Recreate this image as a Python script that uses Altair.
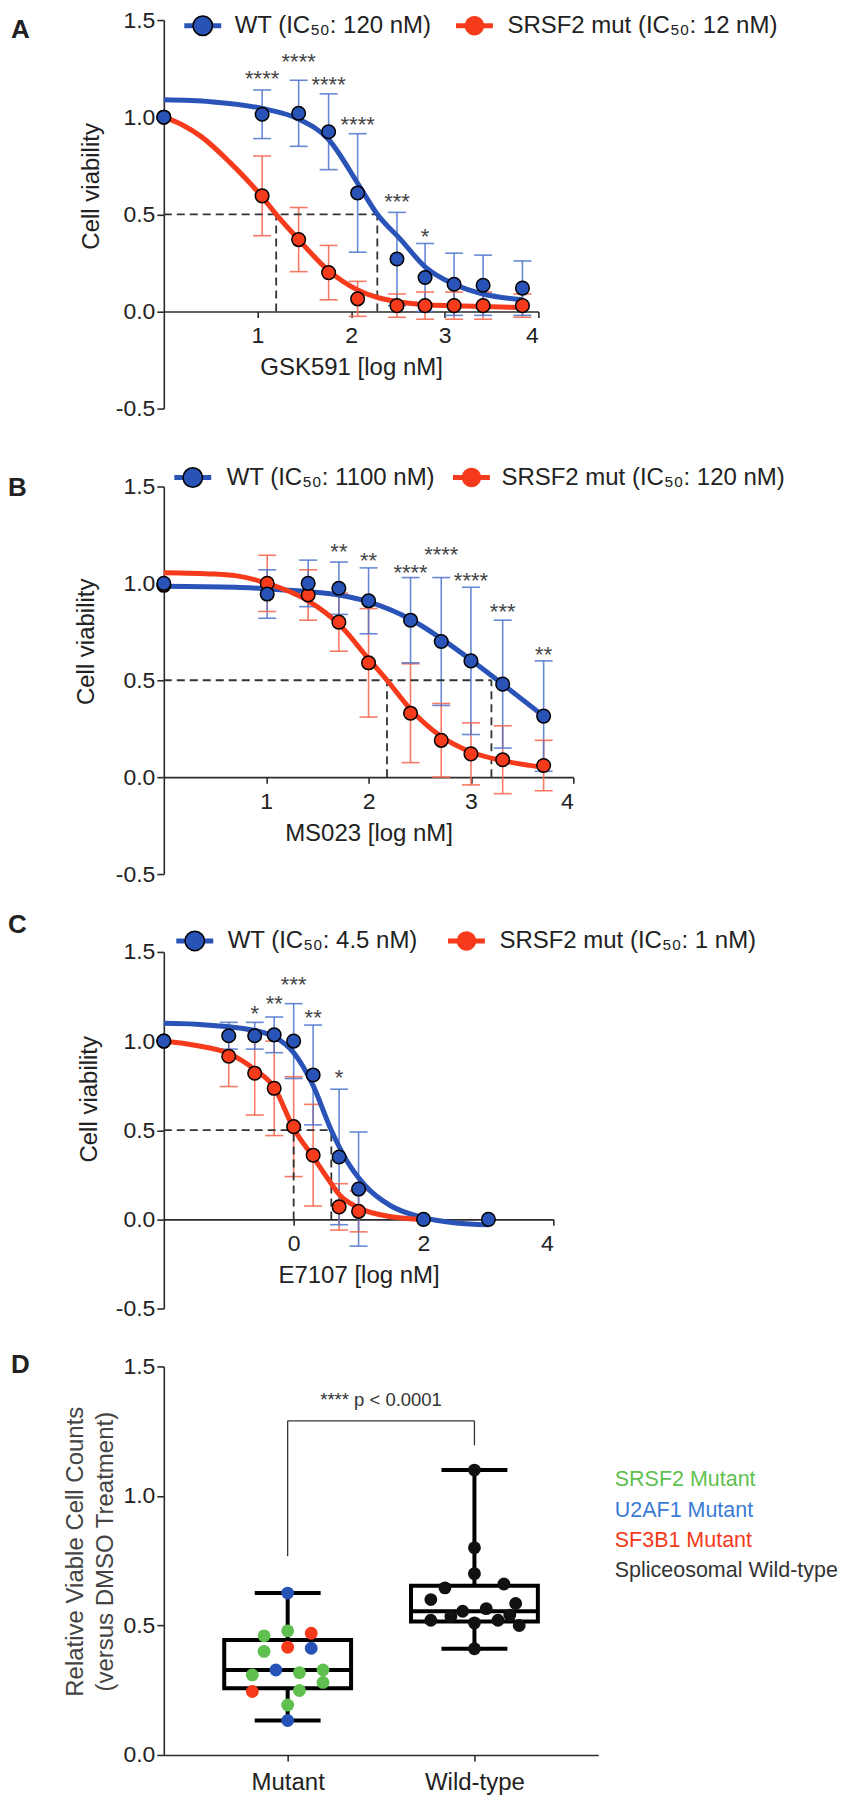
import altair as alt
import pandas as pd

FONT = "Liberation Sans"
TXT = "#222222"
AXC = "#2b2b2b"
BLUE = "#2a53b7"
RED = "#f53b1b"
BLUE_ERR = "#4d74cc"
RED_ERR = "#f6634b"
DASH = "#333333"
STAR = "#444444"

CIRCLE_PATH = "M-1.05,0A1.05,1.05,0,1,1,1.05,0A1.05,1.05,0,1,1,-1.05,0Z"
LINE_PATH = "M-2,-0.27H2V0.27H-2Z"
LEG_SIZE = 342
NEG_EXPR = "datum.value < 0 ? '-' + format(-datum.value, '.1f') : format(datum.value, '.1f')"

# ---------------- Panel A : GSK591 ----------------
A_WT = "WT (IC₅₀: 120 nM)"
A_MUT = "SRSF2 mut (IC₅₀: 12 nM)"
A_X = [0.0, 1.05, 1.44, 1.76, 2.07, 2.49, 2.79, 3.10, 3.41, 3.83]
A_WT_Y = [1.0, 1.015, 1.02, 0.925, 0.61, 0.27, 0.175, 0.14, 0.135, 0.12]
A_WT_ERR = [0, 0.125, 0.17, 0.195, 0.305, 0.24, 0.175, 0.16, 0.155, 0.14]
A_MUT_Y = [1.0, 0.595, 0.37, 0.20, 0.065, 0.03, 0.03, 0.03, 0.03, 0.03]
A_MUT_ERR = [0, 0.205, 0.165, 0.14, 0.09, 0.06, 0.07, 0.07, 0.07, 0.06]
A_WT_FIT_X = [0, 0.5, 1.05, 1.44, 1.76, 2.07, 2.28, 2.53, 2.79, 3.10, 3.41, 3.83]
A_WT_FIT_Y = [1.09, 1.08, 1.045, 0.99, 0.885, 0.66, 0.5, 0.37, 0.23, 0.14, 0.09, 0.06]
A_MUT_FIT_X = [0, 0.2, 0.4, 0.7, 1.05, 1.2, 1.44, 1.76, 2.07, 2.5, 2.79, 3.10, 3.83]
A_MUT_FIT_Y = [1.0, 0.96, 0.9, 0.77, 0.59, 0.5, 0.37, 0.21, 0.11, 0.05, 0.035, 0.03, 0.02]
A_IC50 = [2.28, 1.2]
A_STAR_X = [1.05, 1.44, 1.76, 2.07, 2.49, 2.79]
A_STAR_Y = [1.22, 1.31, 1.19, 0.985, 0.59, 0.41]
A_STARS = ["****", "****", "****", "****", "***", "*"]

# ---------------- Panel B : MS023 ----------------
B_WT = "WT (IC₅₀: 1100 nM)"
B_MUT = "SRSF2 mut (IC₅₀: 120 nM)"
B_X = [0.0, 1.01, 1.41, 1.71, 2.0, 2.41, 2.71, 3.0, 3.31, 3.71]
B_WT_Y = [1.0, 0.945, 1.0, 0.975, 0.91, 0.81, 0.70, 0.60, 0.48, 0.315]
B_WT_ERR = [0, 0.125, 0.12, 0.135, 0.17, 0.22, 0.33, 0.38, 0.33, 0.285]
B_MUT_Y = [0.99, 1.0, 0.94, 0.80, 0.59, 0.33, 0.19, 0.12, 0.09, 0.06]
B_MUT_ERR = [0, 0.145, 0.13, 0.15, 0.28, 0.255, 0.19, 0.16, 0.175, 0.13]
B_WT_FIT_X = [0, 0.7, 1.01, 1.41, 1.71, 2.0, 2.41, 2.71, 3.0, 3.31, 3.71]
B_WT_FIT_Y = [0.985, 0.98, 0.972, 0.958, 0.94, 0.905, 0.815, 0.715, 0.605, 0.48, 0.315]
B_MUT_FIT_X = [0, 0.5, 0.7, 1.01, 1.41, 1.71, 2.0, 2.18, 2.41, 2.71, 3.0, 3.31, 3.71]
B_MUT_FIT_Y = [1.055, 1.048, 1.04, 1.0, 0.91, 0.79, 0.61, 0.5, 0.35, 0.21, 0.13, 0.085, 0.05]
B_IC50 = [3.2, 2.18]
B_STAR_X = [1.71, 2.0, 2.41, 2.71, 3.0, 3.31, 3.71]
B_STAR_Y = [1.19, 1.14, 1.08, 1.17, 1.04, 0.88, 0.655]
B_STARS = ["**", "**", "****", "****", "****", "***", "**"]

# ---------------- Panel C : E7107 ----------------
C_WT = "WT (IC₅₀: 4.5 nM)"
C_MUT = "SRSF2 mut (IC₅₀: 1 nM)"
C_WT_X = [-2.0, -1.0, -0.6, -0.3, 0.0, 0.3, 0.7, 1.0, 2.0, 3.0]
C_WT_Y = [1.0, 1.03, 1.03, 1.035, 1.0, 0.81, 0.35, 0.17, 0.0, 0.0]
C_WT_ERR = [0, 0.075, 0.075, 0.10, 0.21, 0.28, 0.38, 0.32, 0, 0]
C_MUT_X = [-2.0, -1.0, -0.6, -0.3, 0.0, 0.3, 0.7, 1.0]
C_MUT_Y = [1.0, 0.915, 0.82, 0.735, 0.52, 0.36, 0.07, 0.045]
C_MUT_ERR = [0, 0.17, 0.235, 0.265, 0.28, 0.285, 0.13, 0.115]
C_WT_FIT_X = [-2, -1.5, -1.0, -0.6, -0.3, 0.0, 0.14, 0.3, 0.58, 0.8, 1.1, 1.5, 2.0, 2.5, 3.0]
C_WT_FIT_Y = [1.10, 1.095, 1.08, 1.06, 1.025, 0.935, 0.86, 0.75, 0.5, 0.34, 0.19, 0.075, 0.01, -0.02, -0.03]
C_MUT_FIT_X = [-2, -1.5, -1.0, -0.6, -0.3, 0.0, 0.3, 0.58, 0.7, 1.0, 1.5, 2.0]
C_MUT_FIT_Y = [1.0, 0.975, 0.93, 0.84, 0.74, 0.51, 0.35, 0.2, 0.14, 0.065, 0.015, 0.0]
C_IC50 = [0.58, 0.0]
C_STAR_X = [-0.6, -0.3, 0.0, 0.3, 0.7]
C_STAR_Y = [1.18, 1.235, 1.34, 1.16, 0.82]
C_STARS = ["*", "**", "***", "**", "*"]

# ---------------- Panel D : box plot ----------------
D_GROUPS = ["Mutant", "Wild-type"]
D_GENOTYPES = ["SRSF2 Mutant", "U2AF1 Mutant", "SF3B1 Mutant", "Spliceosomal Wild-type"]
D_GENO_COLORS = ["#5fc04f", "#2752b5", "#f43a1a", "#111111"]
D_LABEL_COLORS = ["#5fc04f", "#3a7bd5", "#f43a1a", "#333333"]
D_MUT_VAL = [0.625, 0.46, 0.479, 0.47, 0.40, 0.416, 0.412, 0.309, 0.328, 0.318, 0.328, 0.28, 0.245, 0.249, 0.193, 0.133]
D_MUT_SLOT = [0, -2, 0, 2, -2, 0, 2, -3, -1, 1, 3, 3, -3, 1, 0, 0]
D_MUT_GENO = ["U2AF1 Mutant", "SRSF2 Mutant", "SRSF2 Mutant", "SF3B1 Mutant", "SRSF2 Mutant", "SF3B1 Mutant",
              "U2AF1 Mutant", "SRSF2 Mutant", "U2AF1 Mutant", "SRSF2 Mutant", "SRSF2 Mutant", "SRSF2 Mutant",
              "SF3B1 Mutant", "SRSF2 Mutant", "SRSF2 Mutant", "U2AF1 Mutant"]
D_WT_VAL = [1.10, 0.80, 0.70, 0.66, 0.645, 0.60, 0.585, 0.565, 0.555, 0.54, 0.535, 0.52, 0.52, 0.51, 0.50, 0.41]
D_WT_SLOT = [0, 0, 0, 2.5, -2.5, -3.7, 3.5, 1, -1, 3, -2, -3.7, 2, 0, 3.8, 0]
D_MIN = [0.133, 0.41]
D_Q1 = [0.2575, 0.515]
D_MED = [0.328, 0.555]
D_Q3 = [0.444, 0.653]
D_MAX = [0.625, 1.10]
D_P_TEXT = "**** p < 0.0001"
D_BRACKET_TOP = 1.29
D_BRACKET_LEGS = [0.767, 1.195]
D_P_Y = 1.37


def dose_panel(letter, title_pos, wt, mut, xdom, width, height, xticks, xtitle, ytitle, ytpos,
               wt_x, wt_y, wt_err, mut_x, mut_y, mut_err, wt_fx, wt_fy, mut_fx, mut_fy,
               ic50, star_x, star_y, star_t, leg):
    pts = pd.DataFrame(
        [dict(x=a, y=b, lo=b - e, hi=b + e, err=e, grp="mut") for a, b, e in zip(mut_x, mut_y, mut_err)]
        + [dict(x=a, y=b, lo=b - e, hi=b + e, err=e, grp="wt") for a, b, e in zip(wt_x, wt_y, wt_err)])
    fit = pd.DataFrame(
        [dict(x=a, y=b, grp="wt") for a, b in zip(wt_fx, wt_fy)]
        + [dict(x=a, y=b, grp="mut") for a, b in zip(mut_fx, mut_fy)])
    dash = pd.DataFrame([
        dict(x=xdom[0], x2=ic50[0], y=0.5, y2=0.5),
        dict(x=ic50[0], x2=ic50[0], y=0.0, y2=0.5),
        dict(x=ic50[1], x2=ic50[1], y=0.0, y2=0.5)])
    stars = pd.DataFrame(dict(x=star_x, y=star_y, t=star_t))
    legdf = pd.DataFrame(dict(x=[xdom[0]], y=[0.0], k1=[wt], k2=["wt_dot"], k3=[mut], k4=["mut_dot"]))

    xs = alt.Scale(domain=xdom, nice=False, zero=False)
    ys = alt.Scale(domain=[-0.5, 1.5], nice=False, zero=False)
    xax = alt.Axis(values=xticks, format="d", title=xtitle, offset=-height * 0.25, tickSize=6,
                   labelPadding=7, titleY=56, titleBaseline="middle", labelFontSize=23, titleFontSize=24)
    yax = alt.Axis(values=[-0.5, 0.0, 0.5, 1.0, 1.5], labelExpr=NEG_EXPR, title=ytitle,
                   titleX=ytpos[0], titleY=ytpos[1], titleBaseline="middle")

    def X(f):
        return alt.X(f, type="quantitative", scale=xs, axis=xax)

    def Y(f):
        return alt.Y(f, type="quantitative", scale=ys, axis=yax)

    col = f"datum.grp == 'wt' ? '{BLUE}' : '{RED}'"
    ecol = f"datum.grp == 'wt' ? '{BLUE_ERR}' : '{RED_ERR}'"
    cap = 9.0 * (xdom[1] - xdom[0]) / width

    base_err = alt.Chart(pts).transform_filter("datum.err > 0").transform_calculate(ec=ecol)
    bars = base_err.mark_rule(strokeWidth=1.6, opacity=0.85).encode(
        x=X("x"), y=Y("lo"), y2="hi", stroke=alt.Stroke("ec:N", scale=None))
    caps = base_err.transform_fold(["lo", "hi"], as_=["k", "cy"]).transform_calculate(
        xl=f"datum.x - {cap}", xr=f"datum.x + {cap}").mark_rule(strokeWidth=1.6, opacity=0.85).encode(
        x=X("xl"), x2="xr", y=Y("cy"), stroke=alt.Stroke("ec:N", scale=None))
    dashes = alt.Chart(dash).mark_rule(strokeDash=[8, 5], strokeWidth=1.8, color=DASH).encode(
        x=X("x"), x2="x2", y=Y("y"), y2="y2")
    curves = alt.Chart(fit).transform_calculate(lc=col).mark_line(strokeWidth=5, interpolate="monotone").encode(
        x=X("x"), y=Y("y"), stroke=alt.Stroke("lc:N", scale=None), detail="grp:N")
    dots = alt.Chart(pts).transform_calculate(pc=col).mark_circle(
        size=185, opacity=1, stroke="black", strokeWidth=1.5).encode(
        x=X("x"), y=Y("y"), fill=alt.Fill("pc:N", scale=None))
    startxt = alt.Chart(stars).mark_text(fontSize=22, color=STAR, baseline="middle", dy=5, font=FONT).encode(
        x=X("x"), y=Y("y"), text="t:N")

    # legend: (wt_x, wt_labeloffset, mut_x, mut_labeloffset, y)
    lb = dict(orient="none", direction="horizontal", title=None, labelFont=FONT, labelFontSize=24,
              labelLimit=800, padding=0, symbolOpacity=1, symbolSize=LEG_SIZE, legendY=leg[4])

    def line_leg(lx, lo):
        return alt.Legend(legendX=lx, labelOffset=lo, symbolType=LINE_PATH, symbolStrokeColor="transparent",
                          symbolStrokeWidth=1.5, labelColor=TXT, zindex=1, **lb)

    def dot_leg(lx):
        return alt.Legend(legendX=lx, labelExpr="''", labelOffset=0, symbolType=CIRCLE_PATH,
                          symbolStrokeColor="black", symbolStrokeWidth=1.5, zindex=2, **lb)

    wt_leg = alt.Chart(legdf).transform_filter("false").mark_point(filled=True, color=BLUE).encode(
        x=X("x"), y=Y("y"),
        shape=alt.Shape("k1:N", scale=alt.Scale(domain=[wt], range=[LINE_PATH]), legend=line_leg(leg[0], leg[1])))
    wt_dot_leg = alt.Chart(legdf).transform_filter("false").mark_point(filled=True, opacity=1).encode(
        x=X("x"), y=Y("y"),
        color=alt.Color("k2:N", scale=alt.Scale(domain=["wt_dot"], range=[BLUE]), legend=dot_leg(leg[0])))
    mut_leg = alt.Chart(legdf).transform_filter("false").mark_point(filled=True, color=RED).encode(
        x=X("x"), y=Y("y"),
        strokeDash=alt.StrokeDash("k3:N", scale=alt.Scale(domain=[mut], range=[[1, 0]]),
                                  legend=line_leg(leg[2], leg[3])),
        opacity=alt.Opacity("k4:O", scale=alt.Scale(domain=["mut_dot"], range=[1]), legend=dot_leg(leg[2])))

    return alt.layer(bars, caps, dashes, curves, dots, startxt, wt_leg, wt_dot_leg, mut_leg).properties(
        width=width, height=height,
        title=alt.TitleParams(letter, anchor="start", orient="top", frame="group", offset=title_pos[1],
                              dx=title_pos[0], baseline="top", fontSize=26,
                              fontWeight="bold", font=FONT, color=TXT))


def box_panel(width=435, height=369, lift=20):
    step = 187.0
    pad = 124.0 / step
    box_half = 63.5 / step
    cap_half = 33.0 / step
    slot = 11.8 / step
    pos = [i + 1 for i in range(len(D_GROUPS))]
    stats = pd.DataFrame(dict(grp=D_GROUPS, pos=pos, mn=D_MIN, q1=D_Q1, med=D_MED, q3=D_Q3, mx=D_MAX))
    stats["xl"] = stats["pos"] - box_half
    stats["xr"] = stats["pos"] + box_half
    stats["cl"] = stats["pos"] - cap_half
    stats["cr"] = stats["pos"] + cap_half
    pts = pd.DataFrame(
        [dict(pos=pos[0], slot=s, val=v, geno=g) for v, s, g in zip(D_MUT_VAL, D_MUT_SLOT, D_MUT_GENO)]
        + [dict(pos=pos[1], slot=s, val=v, geno=D_GENOTYPES[3]) for v, s in zip(D_WT_VAL, D_WT_SLOT)])
    pts["xp"] = pts["pos"] + pts["slot"] * slot
    bracket = pd.DataFrame(dict(x=[pos[0], pos[0], pos[1]], x2=[pos[1], pos[0], pos[1]],
                                y=[D_BRACKET_TOP, D_BRACKET_LEGS[0], D_BRACKET_LEGS[1]],
                                y2=[D_BRACKET_TOP] * 3))
    ptxt = pd.DataFrame(dict(x=[(pos[0] + pos[1]) / 2], y=[D_P_Y], t=[D_P_TEXT]))

    lab_expr = " : ".join(f"datum.value == {p} ? '{g}'" for p, g in zip(pos[:-1], D_GROUPS[:-1])) + f" : '{D_GROUPS[-1]}'"
    xs = alt.Scale(domain=[pos[0] - pad, pos[-1] + pad], nice=False, zero=False)
    ys = alt.Scale(domain=[0, 1.5], nice=False, zero=False, range=[height, -lift])
    xax = alt.Axis(values=pos, labelExpr=lab_expr, title=None, tickSize=6, labelPadding=10, labelFontSize=24)
    yax = alt.Axis(values=[0, 0.5, 1.0, 1.5], format=".1f",
                   title=["Relative Viable Cell Counts", "(versus DMSO Treatment)"],
                   titleX=-88, titleY=165, titleBaseline="middle", titleFontSize=24,
                   titleColor="#444444", titleLineHeight=30)

    def X(f):
        return alt.X(f, type="quantitative", scale=xs, axis=xax)

    def Y(f):
        return alt.Y(f, type="quantitative", scale=ys, axis=yax)

    sb = alt.Chart(stats)
    box = sb.mark_rect(fill="transparent", stroke="black", strokeWidth=4).encode(x=X("xl"), x2="xr", y=Y("q1"), y2="q3")
    med = sb.mark_rule(color="black", strokeWidth=4).encode(x=X("xl"), x2="xr", y=Y("med"))
    wh_hi = sb.mark_rule(color="black", strokeWidth=4).encode(x=X("pos"), y=Y("q3"), y2="mx")
    wh_lo = sb.mark_rule(color="black", strokeWidth=4).encode(x=X("pos"), y=Y("mn"), y2="q1")
    cap_hi = sb.mark_rule(color="black", strokeWidth=4).encode(x=X("cl"), x2="cr", y=Y("mx"))
    cap_lo = sb.mark_rule(color="black", strokeWidth=4).encode(x=X("cl"), x2="cr", y=Y("mn"))

    color_expr = " : ".join(f"datum.value == '{g}' ? '{c}'" for g, c in zip(D_GENOTYPES[:-1], D_LABEL_COLORS[:-1])) + f" : '{D_LABEL_COLORS[-1]}'"
    dots = alt.Chart(pts).mark_circle(size=165, opacity=1).encode(
        x=X("xp"), y=Y("val"),
        fill=alt.Fill("geno:N", scale=alt.Scale(domain=D_GENOTYPES, range=D_GENO_COLORS),
                      legend=alt.Legend(orient="none", legendX=430, legendY=83, direction="vertical",
                                        title=None, symbolSize=0, symbolOpacity=0, symbolStrokeWidth=0,
                                        labelOffset=0, labelFont=FONT, labelFontSize=21.5, rowPadding=7.5,
                                        labelLimit=800, padding=0, labelColor=alt.ExprRef(expr=color_expr))))
    br = alt.Chart(bracket).mark_rule(color="#333333", strokeWidth=1.3).encode(x=X("x"), x2="x2", y=Y("y"), y2="y2")
    pt = alt.Chart(ptxt).mark_text(fontSize=18.5, color="#333333", baseline="middle", font=FONT).encode(
        x=X("x"), y=Y("y"), text="t:N")
    return alt.layer(box, med, wh_hi, wh_lo, cap_hi, cap_lo, dots, br, pt).properties(
        width=width, height=height,
        title=alt.TitleParams("D", anchor="start", orient="top", frame="group", offset=-22.5,
                              dx=-153, baseline="top", fontSize=26, fontWeight="bold",
                              font=FONT, color=TXT))


pA = dose_panel("A", (-153, -33.5), A_WT, A_MUT, [0, 4], 375, 389, [1, 2, 3, 4], "GSK591 [log nM]",
                "Cell viability", (-72, 166),
                A_X, A_WT_Y, A_WT_ERR, A_X, A_MUT_Y, A_MUT_ERR,
                A_WT_FIT_X, A_WT_FIT_Y, A_MUT_FIT_X, A_MUT_FIT_Y, A_IC50,
                A_STAR_X, A_STAR_Y, A_STARS, (27, 20, 299, 21, -6.3))
pB = dose_panel("B", (-156, -36), B_WT, B_MUT, [0, 4], 410, 388, [1, 2, 3, 4], "MS023 [log nM]",
                "Cell  viability", (-77, 155),
                B_X, B_WT_Y, B_WT_ERR, B_X, B_MUT_Y, B_MUT_ERR,
                B_WT_FIT_X, B_WT_FIT_Y, B_MUT_FIT_X, B_MUT_FIT_Y, B_IC50,
                B_STAR_X, B_STAR_Y, B_STARS, (17, 22, 296, 18, -21))
pC = dose_panel("C", (-156, -9), C_WT, C_MUT, [-2, 4], 390, 357, [0, 2, 4], "E7107 [log nM]",
                "Cell viability", (-74, 147),
                C_WT_X, C_WT_Y, C_WT_ERR, C_MUT_X, C_MUT_Y, C_MUT_ERR,
                C_WT_FIT_X, C_WT_FIT_Y, C_MUT_FIT_X, C_MUT_FIT_Y, C_IC50,
                C_STAR_X, C_STAR_Y, C_STARS, (19, 21, 291, 21, -23))
pD = box_panel()

chans = ["x", "y", "fill", "shape", "strokeDash", "opacity", "stroke", "color"]
chart = alt.vconcat(pA, pB, pC, pD, spacing=78, bounds="flush").resolve_scale(
    **{c: "independent" for c in chans}).resolve_legend(
    **{c: "independent" for c in ["fill", "shape", "strokeDash", "opacity", "color"]}).properties(
    padding=0, background="white").configure(font=FONT).configure_view(stroke=None).configure_axis(
    grid=False, domainColor=AXC, tickColor=AXC, domainWidth=1.6, tickWidth=1.6, labelFont=FONT,
    titleFont=FONT, labelColor=TXT, titleColor=TXT, titleFontWeight="normal", labelFontSize=23,
    titleFontSize=24, tickSize=7, labelPadding=2)

chart.save("out.html", embed_options={"renderer": "svg", "actions": False})
